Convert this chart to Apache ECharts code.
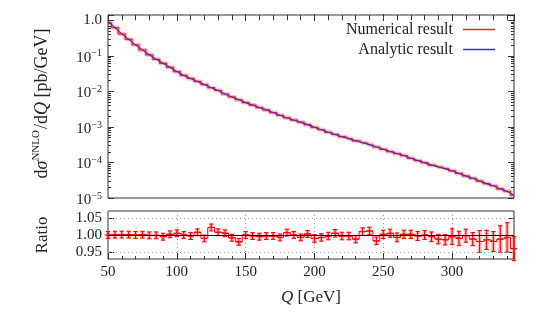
<!DOCTYPE html>
<html><head><meta charset="utf-8">
<script src="https://cdn.jsdelivr.net/npm/echarts@6/dist/echarts.min.js"></script>
<style>html,body{margin:0;padding:0;background:#fff}#c{width:540px;height:324px}</style>
</head><body><div id="c"></div>
<script>
// ---- data ----
const binCenters = [50,55,60,65,70,75,80,85,90,95,
  100,105,110,115,120,125,130,135,140,145,
  150,155,160,165,170,175,180,185,190,195,
  200,205,210,215,220,225,230,235,240,245,
  250,255,260,265,270,275,280,285,290,295,
  300,305,310,315,320,325,330,335,340,345];
const numerical = [0.85,0.624,0.415,0.291,0.204,0.147,0.107,0.080,0.0617,0.0476,
  0.0361,0.0281,0.0231,0.0191,0.0155,0.0127,0.01064,0.00845,0.00697,0.00582,
  0.00483,0.00412,0.00351,0.00300,0.00254,0.00212,0.00180,0.00156,0.00136,0.00116,
  0.000977,0.000832,0.000705,0.000614,0.000530,0.000467,0.000406,0.000358,0.000315,0.000272,
  0.000234,0.000203,0.000178,0.000156,0.000131,0.000113,0.0000986,0.0000841,0.0000741,0.0000667,
  0.0000581,0.0000492,0.0000417,0.0000358,0.0000299,0.0000254,0.0000221,0.0000180,0.0000155,0.0000120];
const analytic = [0.93,0.624,0.415,0.291,0.204,0.147,0.107,0.080,0.0617,0.0476,
  0.0361,0.0281,0.0231,0.0191,0.0155,0.0127,0.01064,0.00845,0.00697,0.00582,
  0.00483,0.00412,0.00351,0.00300,0.00254,0.00212,0.00180,0.00156,0.00136,0.00116,
  0.000977,0.000832,0.000705,0.000614,0.000530,0.000467,0.000406,0.000358,0.000315,0.000272,
  0.000234,0.000203,0.000178,0.000156,0.000131,0.000113,0.0000986,0.0000841,0.0000741,0.0000667,
  0.0000581,0.0000492,0.0000417,0.0000358,0.0000299,0.0000254,0.0000221,0.0000180,0.0000155,0.0000120];
const ratio = [1.000,1.001,1.001,1.001,1.000,1.001,0.999,0.999,0.995,1.002,
  1.005,1.000,0.997,1.008,0.990,1.022,1.008,1.005,0.992,0.980,
  1.000,0.997,0.995,0.997,0.997,0.993,1.007,1.000,0.993,1.003,
  0.990,0.993,0.997,1.005,0.997,0.997,0.988,1.010,1.012,0.983,
  1.002,1.005,0.993,1.002,1.002,0.997,1.000,0.995,0.988,0.986,
  0.995,0.990,0.998,0.988,0.981,0.986,0.981,0.988,0.993,0.960];
const ratioErr = [0.010,0.010,0.010,0.010,0.010,0.010,0.010,0.010,0.010,0.010,
  0.010,0.010,0.010,0.010,0.010,0.010,0.010,0.010,0.010,0.010,
  0.010,0.010,0.010,0.010,0.010,0.010,0.010,0.010,0.010,0.010,
  0.011,0.011,0.011,0.011,0.011,0.011,0.011,0.011,0.011,0.011,
  0.012,0.012,0.013,0.012,0.012,0.013,0.013,0.014,0.014,0.015,
  0.023,0.021,0.019,0.019,0.032,0.028,0.029,0.039,0.043,0.035];
const xMajorTicks = [50,100,150,200,250,300];
const ratioTicks = [0.95,1.00,1.05];
const binWidth = 5;

// ---- layout / style ----
const FONT = 'Liberation Serif';
const TXT = '#222';
const xMin = 50, xMax = 345;
const yMin = 1e-5, yMax = 1.41;
const rMin = 0.93, rMax = 1.07;

const xMinor = [];
for (let v = xMin + 10; v < xMax; v += 10) if (xMajorTicks.indexOf(v) < 0) xMinor.push(v);
const logMinor = [];
for (let e = -5; e <= 0; e++) for (let k = 2; k <= 9; k++) { const v = k * Math.pow(10, e); if (v < yMax) logMinor.push(Math.log10(v)); }

const numPairs = binCenters.map((q, i) => [q, numerical[i]]);
const anaPairs = binCenters.map((q, i) => [q, analytic[i]]);
const ratPairs = binCenters.map((q, i) => [q, ratio[i]]);
const ratErrData = binCenters.map((q, i) => [q, ratio[i], ratioErr[i]]);

const tickStyle = {color: '#333', width: 1};
function xAx(grid, pos, major) {
  const a = {gridIndex: grid, type: 'value', position: pos, min: xMin, max: xMax,
    axisLine: {show: false}, splitLine: {show: false},
    axisTick: {show: true, inside: true, length: major ? 6 : 3, lineStyle: tickStyle},
    axisLabel: {show: false}};
  if (major) { a.interval = 50; } else { a.axisTick.customValues = xMinor; }
  return a;
}
const xAxes = [xAx(0,'bottom',true), xAx(0,'bottom',false), xAx(0,'top',true), xAx(0,'top',false),
  xAx(1,'bottom',true), xAx(1,'bottom',false)];
xAxes[4].axisLabel = {show: true, fontFamily: FONT, fontSize: 15, color: TXT, margin: 6,
  formatter: v => (xMajorTicks.indexOf(v) >= 0 ? String(v) : '')};
xAxes[4].splitLine = {show: true, lineStyle: {type: [1, 3], color: '#999', width: 1}};
xAxes[4].name = '{i|Q} [GeV]';
xAxes[4].nameLocation = 'middle';
xAxes[4].nameGap = 30;
xAxes[4].nameTextStyle = {fontFamily: FONT, fontSize: 17, color: TXT,
  rich: {i: {fontFamily: FONT, fontSize: 17, fontStyle: 'italic', color: TXT}}};

const logLabel = v => {
  const e = Math.log10(v);
  const r = Math.round(e);
  if (Math.abs(e - r) > 1e-6) return '';
  if (r === 0) return '1.0';
  return '{b|10}{s|\u2212' + (-r) + '}';
};

const yAxes = [
  {gridIndex: 0, type: 'log', logBase: 10, position: 'left', min: yMin, max: yMax,
    axisLine: {show: false}, splitLine: {show: false}, minorTick: {show: false},
    axisTick: {show: true, inside: true, length: 6, lineStyle: tickStyle},
    axisLabel: {show: true, margin: 6, formatter: logLabel, fontFamily: FONT, fontSize: 15, color: TXT,
      verticalAlign: 'middle', verticalAlignMinLabel: 'middle', verticalAlignMaxLabel: 'middle',
      rich: {b: {fontFamily: FONT, fontSize: 15, color: TXT, lineHeight: 16, padding: [4, 0, 0, 0]},
             s: {fontFamily: FONT, fontSize: 10, color: TXT, lineHeight: 12, padding: [0, 0, 4, 0]}}},
    name: 'd{i|\u03c3}{sup|NNLO}/d{i|Q} [pb/GeV]', nameLocation: 'middle', nameRotate: 90, nameGap: 55,
    nameTextStyle: {fontFamily: FONT, fontSize: 18, color: TXT, padding: [0, 0, 0, 6],
      rich: {i: {fontFamily: FONT, fontSize: 18, fontStyle: 'italic', color: TXT},
             sup: {fontFamily: FONT, fontSize: 11, color: TXT, padding: [0, 1, 11, 0]}}}},
  {gridIndex: 0, type: 'value', position: 'left', min: Math.log10(yMin), max: Math.log10(yMax),
    axisLine: {show: false}, splitLine: {show: false}, axisLabel: {show: false},
    axisTick: {show: true, inside: true, length: 3, lineStyle: tickStyle, customValues: logMinor}},
  {gridIndex: 0, type: 'log', logBase: 10, position: 'right', min: yMin, max: yMax,
    axisLine: {show: false}, splitLine: {show: false}, axisLabel: {show: false}, minorTick: {show: false},
    axisTick: {show: true, inside: true, length: 6, lineStyle: tickStyle}},
  {gridIndex: 0, type: 'value', position: 'right', min: Math.log10(yMin), max: Math.log10(yMax),
    axisLine: {show: false}, splitLine: {show: false}, axisLabel: {show: false},
    axisTick: {show: true, inside: true, length: 3, lineStyle: tickStyle, customValues: logMinor}},
  {gridIndex: 1, type: 'value', position: 'left', min: rMin, max: rMax,
    axisLine: {show: false}, splitLine: {show: false},
    axisTick: {show: true, inside: true, length: 6, lineStyle: tickStyle, customValues: ratioTicks},
    axisLabel: {show: true, customValues: ratioTicks, formatter: v => v.toFixed(2), margin: 6,
      fontFamily: FONT, fontSize: 15, color: TXT},
    name: 'Ratio', nameLocation: 'middle', nameRotate: 90, nameGap: 57,
    nameTextStyle: {fontFamily: FONT, fontSize: 17, color: TXT}},
  {gridIndex: 1, type: 'value', position: 'right', min: rMin, max: rMax,
    axisLine: {show: false}, splitLine: {show: false}, axisLabel: {show: false},
    axisTick: {show: true, inside: true, length: 6, lineStyle: tickStyle, customValues: ratioTicks}}
];

const option = {
  animation: false,
  backgroundColor: '#fff',
  grid: [
    {left: 108, right: 26, top: 15, height: 183, show: true, borderColor: '#333', borderWidth: 1, backgroundColor: 'transparent'},
    {left: 108, right: 26, top: 211, height: 48, show: true, borderColor: '#333', borderWidth: 1, backgroundColor: 'transparent'}
  ],
  legend: {
    data: [{name: 'Numerical result', icon: 'rect'}, {name: 'Analytic result', icon: 'rect'}],
    orient: 'vertical', right: 40, top: 16,
    align: 'right', itemWidth: 32, itemHeight: 1.5, itemGap: 3,
    textStyle: {fontFamily: FONT, fontSize: 16, color: TXT, lineHeight: 17, padding: [0, 5, 0, 0]}
  },
  xAxis: xAxes,
  yAxis: yAxes,
  series: [
    {name: '_band', type: 'line', xAxisIndex: 0, yAxisIndex: 0, step: 'middle', data: numPairs,
      symbol: 'none', silent: true, z: 2, lineStyle: {width: 4, color: 'rgba(255,0,0,0.28)'}},
    {name: 'Numerical result', type: 'line', xAxisIndex: 0, yAxisIndex: 0, step: 'middle', data: numPairs,
      symbol: 'none', z: 3, color: '#ff2020', itemStyle: {color: '#ff2020'}, lineStyle: {width: 1.2, color: '#ff2020'}},
    {name: 'Analytic result', type: 'line', xAxisIndex: 0, yAxisIndex: 0, data: anaPairs,
      symbol: 'none', z: 4, color: '#3030d8', itemStyle: {color: '#3030d8'}, lineStyle: {width: 1.1, color: '#3030d8'}},
    {name: '_ratioLine', type: 'line', xAxisIndex: 4, yAxisIndex: 4, step: 'middle', data: ratPairs,
      symbol: 'none', z: 3, lineStyle: {width: 1, color: '#ff0000'},
      markLine: {silent: true, symbol: 'none', label: {show: false},
        data: [
          {yAxis: 1.0, lineStyle: {color: '#111', type: 'solid', width: 1}},
          {yAxis: 1.05, lineStyle: {color: '#999', type: [1, 3], width: 1}},
          {yAxis: 0.95, lineStyle: {color: '#999', type: [1, 3], width: 1}}
        ]}},
    {name: '_ratioErr', type: 'custom', xAxisIndex: 4, yAxisIndex: 4, data: ratErrData, z: 4,
      encode: {x: 0, y: 1},
      renderItem: function (params, api) {
        const q = api.value(0), r = api.value(1), e = api.value(2);
        const h = binWidth / 2;
        const L = api.coord([q - h, r]), R = api.coord([q + h, r]);
        const T = api.coord([q, r + e]), B = api.coord([q, r - e]);
        const bw = (R[0] - L[0]) * 0.6;
        const cap = 2.2;
        const red = {stroke: '#ff0000', lineWidth: 1.1};
        return {type: 'group', children: [
          {type: 'rect', shape: {x: T[0] - bw / 2, y: T[1], width: bw, height: B[1] - T[1]}, style: {fill: 'rgba(255,0,0,0.25)'}},
          {type: 'line', shape: {x1: L[0], y1: L[1], x2: R[0], y2: R[1]}, style: red},
          {type: 'line', shape: {x1: T[0], y1: T[1], x2: B[0], y2: B[1]}, style: red},
          {type: 'line', shape: {x1: T[0] - cap, y1: T[1], x2: T[0] + cap, y2: T[1]}, style: red},
          {type: 'line', shape: {x1: B[0] - cap, y1: B[1], x2: B[0] + cap, y2: B[1]}, style: red}
        ]};
      }}
  ]
};
const chart = echarts.init(document.getElementById('c'), null, {renderer: 'canvas'});
chart.setOption(option);
</script>
</body></html>
